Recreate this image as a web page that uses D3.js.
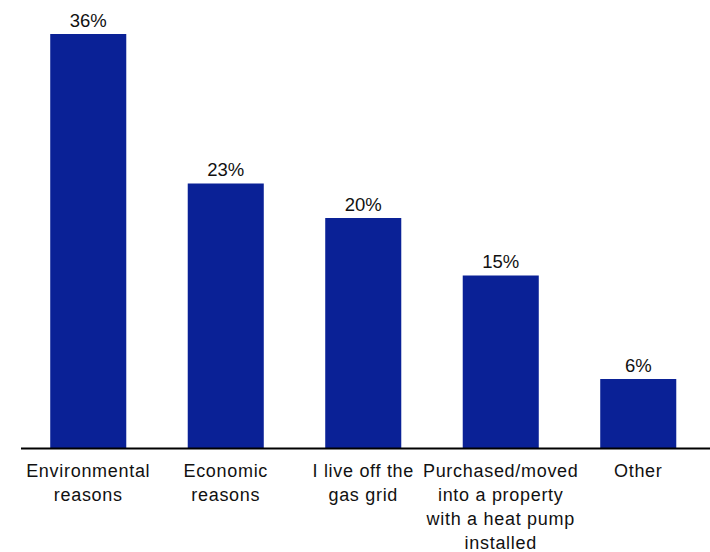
<!DOCTYPE html>
<html>
<head>
<meta charset="utf-8">
<script src="https://cdn.jsdelivr.net/npm/d3@7"></script>
<style>
  html, body { margin: 0; padding: 0; background: #fff; }
  svg text { font-family: "Liberation Sans", Arial, sans-serif; fill: #111; }
</style>
</head>
<body>
<svg id="chart" width="710" height="552"></svg>
<script>
// Reasons for installing a heat pump (% of respondents)
const categories = [
  ["Environmental", "reasons"],
  ["Economic", "reasons"],
  ["I live off the", "gas grid"],
  ["Purchased/moved", "into a property", "with a heat pump", "installed"],
  ["Other"]
];
const values = [36, 23, 20, 15, 6];
const valueLabels = ["36%", "23%", "20%", "15%", "6%"];

const svg = d3.select("#chart");
const baseline = 448;
const barColor = "#0a2196";

const x = d3.scaleBand()
  .domain(d3.range(values.length))
  .range([19.5, 707])
  .paddingInner(0.447)
  .paddingOuter(0.2235);

const y = d3.scaleLinear()
  .domain([0, 36])
  .range([baseline, 34]);

// bars
svg.append("g").selectAll("rect")
  .data(values)
  .join("rect")
  .attr("x", (d, i) => x(i))
  .attr("width", x.bandwidth())
  .attr("y", d => y(d))
  .attr("height", d => baseline - y(d))
  .attr("fill", barColor);

// value labels
svg.append("g").selectAll("text")
  .data(values)
  .join("text")
  .attr("x", (d, i) => x(i) + x.bandwidth() / 2)
  .attr("y", d => y(d) - 7.5)
  .attr("text-anchor", "middle")
  .style("font-size", "18.5px")
  .text((d, i) => valueLabels[i]);

// category axis line
svg.append("line")
  .attr("x1", 21).attr("x2", 710)
  .attr("y1", baseline + 0.5).attr("y2", baseline + 0.5)
  .attr("stroke", "#000")
  .attr("stroke-width", 2);

// category labels
const cat = svg.append("g").selectAll("text")
  .data(categories)
  .join("text")
  .attr("text-anchor", "middle")
  .style("font-size", "18px")
  .style("letter-spacing", "0.7px");

cat.selectAll("tspan")
  .data((d, i) => d.map(line => ({ line, i })))
  .join("tspan")
  .attr("x", d => x(d.i) + x.bandwidth() / 2)
  .attr("y", (d, j) => 476.5 + j * 24.3)
  .text(d => d.line);
</script>
</body>
</html>
